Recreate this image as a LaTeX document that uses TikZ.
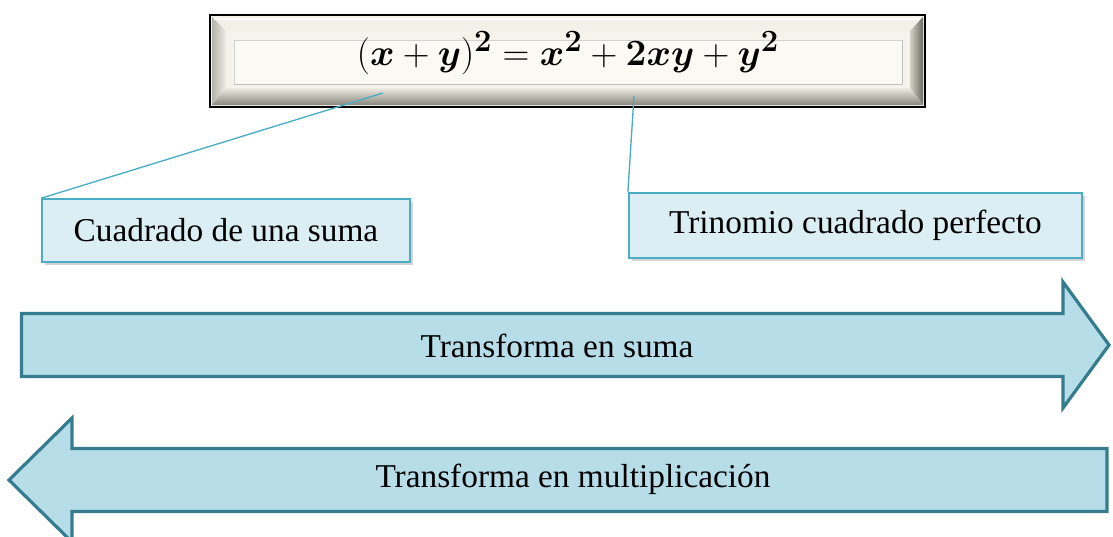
\documentclass[tikz,border=0pt]{standalone}
\usepackage{graphicx}
\usepackage{bm}
\usepackage[no-math]{fontspec}
\setmainfont{Liberation Serif}
\usetikzlibrary{shadows}
\definecolor{boxfill}{HTML}{DAEEF3}
\definecolor{boxline}{HTML}{4BACC6}
\definecolor{arrfill}{HTML}{B7DDE8}
\definecolor{arrline}{HTML}{347C8E}
\definecolor{panelc}{HTML}{FAF9F3}
\definecolor{platec}{HTML}{F5F3EB}
\definecolor{bevtop}{HTML}{F2F0E7}
\definecolor{bevleftout}{HTML}{B5B2A8}
\definecolor{bevleftin}{HTML}{EFEDE5}
\definecolor{bevrightin}{HTML}{D3D0C5}
\definecolor{bevrightout}{HTML}{6E6C66}
\definecolor{bevbotin}{HTML}{ECEAE1}
\definecolor{bevbotout}{HTML}{8A877F}
\newcommand\labfont{\fontsize{25}{30}\selectfont}
\newcommand\eqfont{\fontsize{24.88}{30}\selectfont}
\begin{document}
\begin{tikzpicture}[x=0.75pt,y=-0.75pt,
  callout/.style={draw=boxline, line width=1.4pt, fill=boxfill, inner sep=0pt,
    drop shadow={shadow xshift=2pt, shadow yshift=-2pt, opacity=0.35},
    font=\labfont},
  bigarrow/.style={draw=arrline, line width=2.4pt, fill=arrfill, line join=miter},
  arrtext/.style={font=\labfont},
  eqstyle/.style={font=\eqfont},
  leader/.style={draw=boxline, line width=1pt}]
\useasboundingbox (0,0) rectangle (1113,536);
% top framed box (bevel)
\fill[platec] (210,15) rectangle (925,107);
\fill[bevtop] (212,17) -- (923,17) -- (910,31) -- (226,31) -- cycle;
\shade[left color=bevleftout, right color=bevleftin] (212,17) -- (226,31) -- (226,88) -- (212,105) -- cycle;
\shade[left color=bevrightin, right color=bevrightout] (923,17) -- (923,105) -- (910,88) -- (910,31) -- cycle;
\shade[top color=bevbotin, bottom color=bevbotout] (212,105) -- (923,105) -- (910,88) -- (226,88) -- cycle;
\draw[white, line width=1pt] (214,19) -- (920,19);
\fill[panelc] (234,40) rectangle (902,84);
\draw[black!18, line width=0.7pt] (234,84) -- (234,40) -- (902,40);
\draw[black!25, line width=0.7pt] (902,40) -- (902,84) -- (234,84);
\draw[black, line width=1.6pt] (210,15) rectangle (925,107);
\coordinate (p1) at (383,93);
\coordinate (p2) at (634,96);
% callout boxes
\node[callout, minimum width=276pt, minimum height=47pt] (cs) at (226,230.5) {Cuadrado de una suma};
\node[callout, minimum width=340pt, minimum height=48.5pt] (tc) at (855.5,225.5) {Trinomio cuadrado perfecto};
\draw[leader] (p1) -- (cs.north west);
\draw[leader] (p2) -- (tc.north west);
% arrows
\draw[bigarrow] (21.5,313.5) -- (1063,313.5) -- (1063,282) -- (1109,345) -- (1063,408) -- (1063,376.5) -- (21.5,376.5) -- cycle;
\node[arrtext] (ts) at (557,346) {Transforma en suma};
\draw[bigarrow] (1107,448.5) -- (72,448.5) -- (72,418) -- (9,480) -- (72,542) -- (72,511.5) -- (1107,511.5) -- cycle;
\node[arrtext] (tm) at (573,479) {Transforma en multiplicación};
\node[eqstyle] (formula) at (568,53) {\scalebox{1.12}{$(\bm{x}+\bm{y})^{\mathbf{2}}=\bm{x}^{\mathbf{2}}+\mathbf{2}\bm{x}\bm{y}+\bm{y}^{\mathbf{2}}$}};
\end{tikzpicture}
\end{document}
